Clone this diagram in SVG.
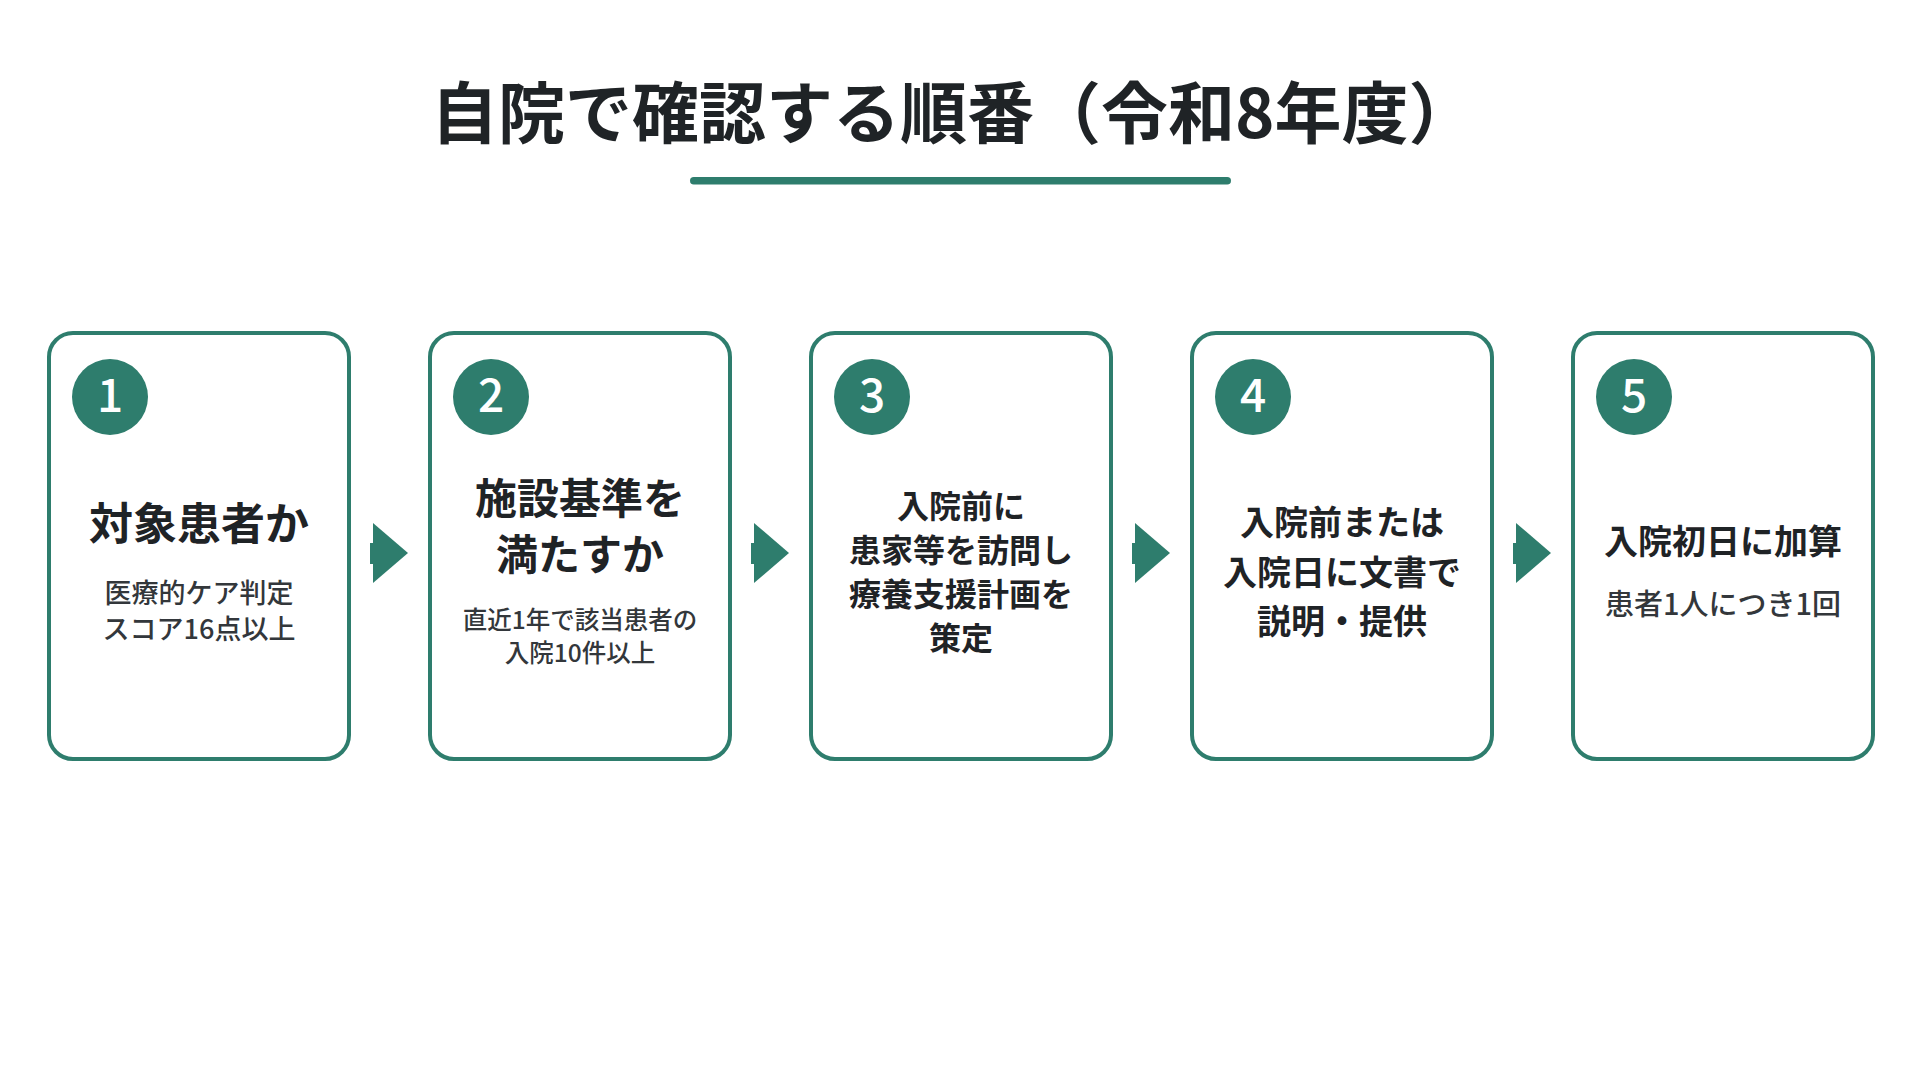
<svg xmlns="http://www.w3.org/2000/svg" width="1920" height="1080" viewBox="0 0 1920 1080">
<defs>
<style>
text{font-family:"Noto Sans CJK JP","Noto Sans",sans-serif;}
.card{fill:#ffffff;stroke:#2E7D6D;stroke-width:4;}
.badge{fill:#2E7D6D;}
.num{fill:#ffffff;font-size:46px;font-weight:500;text-anchor:middle;}
.head{fill:#1f2326;font-weight:700;text-anchor:middle;}
.sub{fill:#33373b;font-weight:500;text-anchor:middle;}
.arrow{fill:#2E7D6D;}
</style>
</defs>
<rect x="0" y="0" width="1920" height="1080" fill="#ffffff"/>
<g id="title">
<text x="431" y="138" style="font-size:67px;font-weight:700;fill:#1f2326;">自院で確認する順番（令和8年度）</text>
<rect x="690" y="177" width="541" height="7.5" rx="3.75" fill="#2E7D6D"/>
</g>
<g id="connectors">
<g class="arrow"><rect x="370" y="543" width="4" height="21"/><polygon points="373,523 408,553 373,583"/></g>
<g class="arrow"><rect x="751" y="543" width="4" height="21"/><polygon points="754,523 789,553 754,583"/></g>
<g class="arrow"><rect x="1132" y="543" width="4" height="21"/><polygon points="1135,523 1170,553 1135,583"/></g>
<g class="arrow"><rect x="1513" y="543" width="4" height="21"/><polygon points="1516,523 1551,553 1516,583"/></g>
</g>
<g id="step1">
<rect class="card" x="49" y="333" width="300" height="426" rx="24"/>
<circle class="badge" cx="110" cy="397" r="38"/>
<text class="num" x="110" y="412">1</text>
<text class="head" x="199" y="540" style="font-size:44px">対象患者か</text>
<text class="sub" x="199" y="603" style="font-size:27px">医療的ケア判定</text>
<text class="sub" x="199" y="639" style="font-size:27px">スコア16点以上</text>
</g>
<g id="step2">
<rect class="card" x="430" y="333" width="300" height="426" rx="24"/>
<circle class="badge" cx="491" cy="397" r="38"/>
<text class="num" x="491" y="412">2</text>
<text class="head" x="580" y="514" style="font-size:42px">施設基準を</text>
<text class="head" x="580" y="570" style="font-size:42px">満たすか</text>
<text class="sub" x="580" y="629" style="font-size:24.5px">直近1年で該当患者の</text>
<text class="sub" x="580" y="662" style="font-size:24.5px">入院10件以上</text>
</g>
<g id="step3">
<rect class="card" x="811" y="333" width="300" height="426" rx="24"/>
<circle class="badge" cx="872" cy="397" r="38"/>
<text class="num" x="872" y="412">3</text>
<text class="head" x="961" y="518" style="font-size:32px">入院前に</text>
<text class="head" x="961" y="562" style="font-size:32px">患家等を訪問し</text>
<text class="head" x="961" y="606" style="font-size:32px">療養支援計画を</text>
<text class="head" x="961" y="650" style="font-size:32px">策定</text>
</g>
<g id="step4">
<rect class="card" x="1192" y="333" width="300" height="426" rx="24"/>
<circle class="badge" cx="1253" cy="397" r="38"/>
<text class="num" x="1253" y="412">4</text>
<text class="head" x="1342" y="535" style="font-size:34px">入院前または</text>
<text class="head" x="1342" y="585" style="font-size:34px">入院日に文書で</text>
<text class="head" x="1342" y="634" style="font-size:34px">説明・提供</text>
</g>
<g id="step5">
<rect class="card" x="1573" y="333" width="300" height="426" rx="24"/>
<circle class="badge" cx="1634" cy="397" r="38"/>
<text class="num" x="1634" y="412">5</text>
<text class="head" x="1723" y="554" style="font-size:34px">入院初日に加算</text>
<text class="sub" x="1723" y="615" style="font-size:29px">患者1人につき1回</text>
</g>
</svg>
